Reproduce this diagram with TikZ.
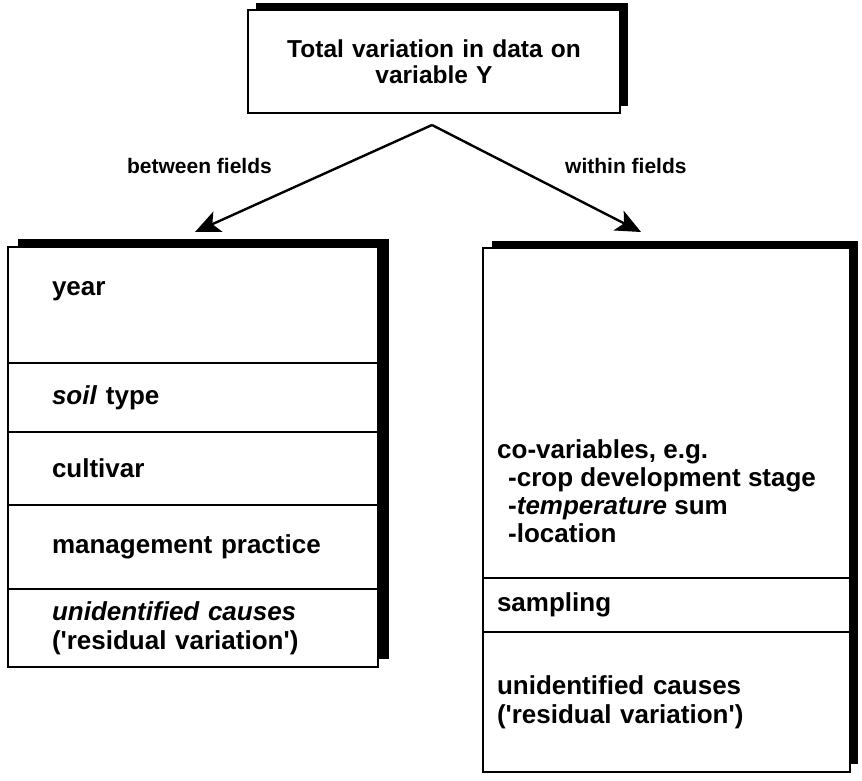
\documentclass[tikz,border=0pt]{standalone}
\usepackage{fontspec}
\setmainfont{Liberation Sans}
\usetikzlibrary{arrows.meta}
\newcommand{\sq}{\textquotesingle}
\begin{document}
\begin{tikzpicture}[x=1pt,y=-1pt,
  txt/.style={font=\bfseries\fontsize{26}{29}\selectfont},
  cell/.style={draw, line width=2pt, fill=white, anchor=north west, align=left,
    inner ysep=0pt, outer sep=0pt, txt},
  lcell/.style={cell, inner xsep=44pt, text width=282pt},
  rcell/.style={cell, inner xsep=14pt, text width=339pt},
  shadow/.style={fill=black},
  lbl/.style={font=\bfseries\fontsize{21}{24}\selectfont, inner sep=0pt},
  arr/.style={line width=2.4pt, -{Stealth[length=25pt,width=22pt,inset=6pt]}}
]
\useasboundingbox (0,0) rectangle (862,780);
% shadows
\fill[shadow] (256,3) rectangle (628,106);
\fill[shadow] (18,239) rectangle (389,659);
\fill[shadow] (492,241) rectangle (858,764);
% top box
\node[cell, align=center, inner xsep=0pt, text width=372pt, minimum height=103pt,
  font=\bfseries\fontsize{24.5}{26}\selectfont] (top) at (248,10)
  {Total variation in data on\\variable Y};
% left column
\node[lcell, minimum height=116pt, text depth=33pt] (year) at (8,247) {year};
\node[lcell, minimum height=69pt] (soil) at (year.south west) {\textit{soil} type};
\node[lcell, minimum height=73pt] (cult) at (soil.south west) {cultivar};
\node[lcell, minimum height=84pt] (mgmt) at (cult.south west) {management practice};
\node[lcell, minimum height=78pt] (lres) at (mgmt.south west)
  {\textit{unidentified causes}\\(\sq residual variation\sq)};
% right column
\node[rcell, minimum height=330pt] (covar) at (483,248) {};
\node[txt, anchor=west, align=left, inner sep=0pt] (covartext) at (497,491)
  {co-variables, e.g.\\[-1pt]
   \hspace*{11pt}-crop development stage\\[-1pt]
   \hspace*{11pt}-\textit{temperature} sum\\[-1pt]
   \hspace*{11pt}-location};
\node[rcell, minimum height=54pt] (samp) at (covar.south west) {sampling};
\node[rcell, minimum height=140pt] (rres) at (samp.south west)
  {unidentified causes\\(\sq residual variation\sq)};
% arrows
\coordinate (apex) at (432,125);
\coordinate (ltip) at (195,232);
\coordinate (rtip) at (641,232);
\draw[arr] (apex) -- (ltip);
\draw[arr] (apex) -- (rtip);
\node[lbl, anchor=east] (between) at (272,166) {between fields};
\node[lbl, anchor=west] (within) at (565,166) {within fields};
\end{tikzpicture}
\end{document}
